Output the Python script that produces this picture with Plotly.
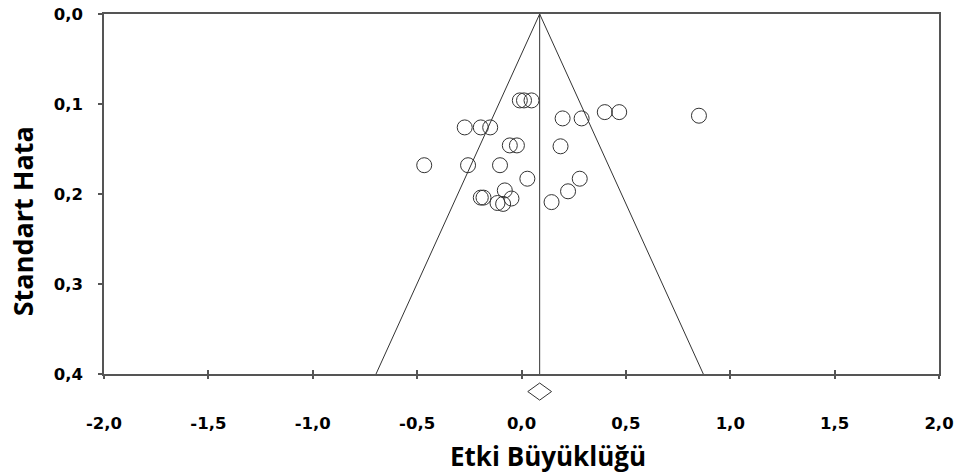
import plotly.graph_objects as go

# ---- data ----
effect_sizes = [-0.008, 0.012, 0.048,
                -0.272, -0.195, -0.150,
                -0.056, -0.022,
                -0.466, -0.256, -0.103,
                0.028,
                -0.195, -0.182, -0.080, -0.048, -0.115, -0.088,
                0.197, 0.288, 0.399, 0.468, 0.850,
                0.187, 0.279, 0.223, 0.144]
standard_errors = [0.096, 0.096, 0.096,
                   0.126, 0.126, 0.126,
                   0.146, 0.146,
                   0.168, 0.168, 0.168,
                   0.183,
                   0.204, 0.204, 0.196, 0.205, 0.210, 0.211,
                   0.116, 0.116, 0.109, 0.109, 0.113,
                   0.147, 0.183, 0.197, 0.209]

pooled_effect = 0.087
pooled_ci = [0.030, 0.144]
diamond_level = 0.4195      # standard-error level where the summary diamond sits
diamond_half_height = 0.0095
se_max = 0.4
se_strip = 0.4333           # extent of the strip below the axis holding the diamond
z_crit = 1.96

x_tickvals = [-2.0, -1.5, -1.0, -0.5, 0.0, 0.5, 1.0, 1.5, 2.0]
x_ticktext = ["-2,0", "-1,5", "-1,0", "-0,5", "0,0", "0,5", "1,0", "1,5", "2,0"]
y_tickvals = [0.0, 0.1, 0.2, 0.3, 0.4]
y_ticktext = ["0,0", "0,1", "0,2", "0,3", "0,4"]

x_title = "Etki Büyüklüğü"
y_title = "Standart Hata"

line_col = "#333333"
axis_col = "#555555"
tick_font = dict(family="DejaVu Sans", size=16.5, color="black", weight="bold")
title_font = dict(family="Open Sans", size=26, color="black", weight="bold")

main_bottom = (se_strip - se_max) / se_strip

fig = go.Figure()

# funnel (pseudo 95% confidence limits)
fig.add_trace(go.Scatter(
    x=[pooled_effect - z_crit * se_max, pooled_effect, pooled_effect + z_crit * se_max],
    y=[se_max, 0.0, se_max],
    mode="lines", line=dict(color=line_col, width=1),
    hoverinfo="skip", showlegend=False))

# vertical line at pooled effect (on overlay axis that carries inner ticks)
fig.add_trace(go.Scatter(
    x=[pooled_effect, pooled_effect], y=[0.0, se_max],
    mode="lines", line=dict(color=line_col, width=1),
    xaxis="x2", hoverinfo="skip", showlegend=False))

# studies
fig.add_trace(go.Scatter(
    x=effect_sizes, y=standard_errors, mode="markers",
    marker=dict(symbol="circle-open", size=15, color=line_col,
                line=dict(color=line_col, width=1)),
    showlegend=False))

# summary diamond (in strip below the axis)
fig.add_trace(go.Scatter(
    x=[pooled_ci[0], pooled_effect, pooled_ci[1], pooled_effect, pooled_ci[0]],
    y=[diamond_level, diamond_level - diamond_half_height, diamond_level,
       diamond_level + diamond_half_height, diamond_level],
    mode="lines", line=dict(color=line_col, width=1),
    xaxis="x3", yaxis="y3", hoverinfo="skip", showlegend=False))

fig.update_layout(
    template="none",
    width=954, height=476,
    margin=dict(l=104, r=15, t=14, b=72),
    paper_bgcolor="white", plot_bgcolor="white",
    xaxis=dict(range=[-2.0, 2.0], tickvals=x_tickvals, ticktext=x_ticktext,
               ticks="outside", ticklen=3, tickwidth=1.5, tickcolor=axis_col,
               showline=True, linecolor=axis_col, linewidth=1.5, mirror=True,
               showgrid=False, zeroline=False, tickfont=tick_font,
               ticklabelstandoff=30, automargin=False, anchor="y"),
    xaxis2=dict(overlaying="x", matches="x", side="bottom", anchor="y",
                tickvals=x_tickvals, ticks="inside", ticklen=4, tickwidth=1.5,
                tickcolor=axis_col, showticklabels=False, showline=False,
                showgrid=False, zeroline=False, automargin=False),
    xaxis3=dict(matches="x", anchor="y3", visible=False, automargin=False),
    yaxis=dict(range=[se_max, 0.0], domain=[main_bottom, 1.0],
               tickvals=y_tickvals, ticktext=y_ticktext,
               ticks="outside", ticklen=4, tickwidth=1.5, tickcolor=axis_col,
               showline=True, linecolor=axis_col, linewidth=1.5, mirror=True,
               showgrid=False, zeroline=False, tickfont=tick_font,
               ticklabelstandoff=12, automargin=False),
    yaxis3=dict(range=[se_strip, se_max], domain=[0.0, main_bottom],
                anchor="x3", visible=False, automargin=False),
    annotations=[
        dict(text=x_title, xref="paper", yref="paper", x=0.532, y=-0.133,
             xanchor="center", yanchor="middle", showarrow=False, font=title_font),
        dict(text=y_title, xref="paper", yref="paper", x=-0.098, y=0.469,
             xanchor="center", yanchor="middle", showarrow=False, textangle=-90,
             font=dict(title_font, size=27)),
    ],
)

# remove the browser's default 8px body margin so the figure fills the window
fig.write_html("out.html", config={"displayModeBar": False},
               post_script="document.body.style.margin='0';")
